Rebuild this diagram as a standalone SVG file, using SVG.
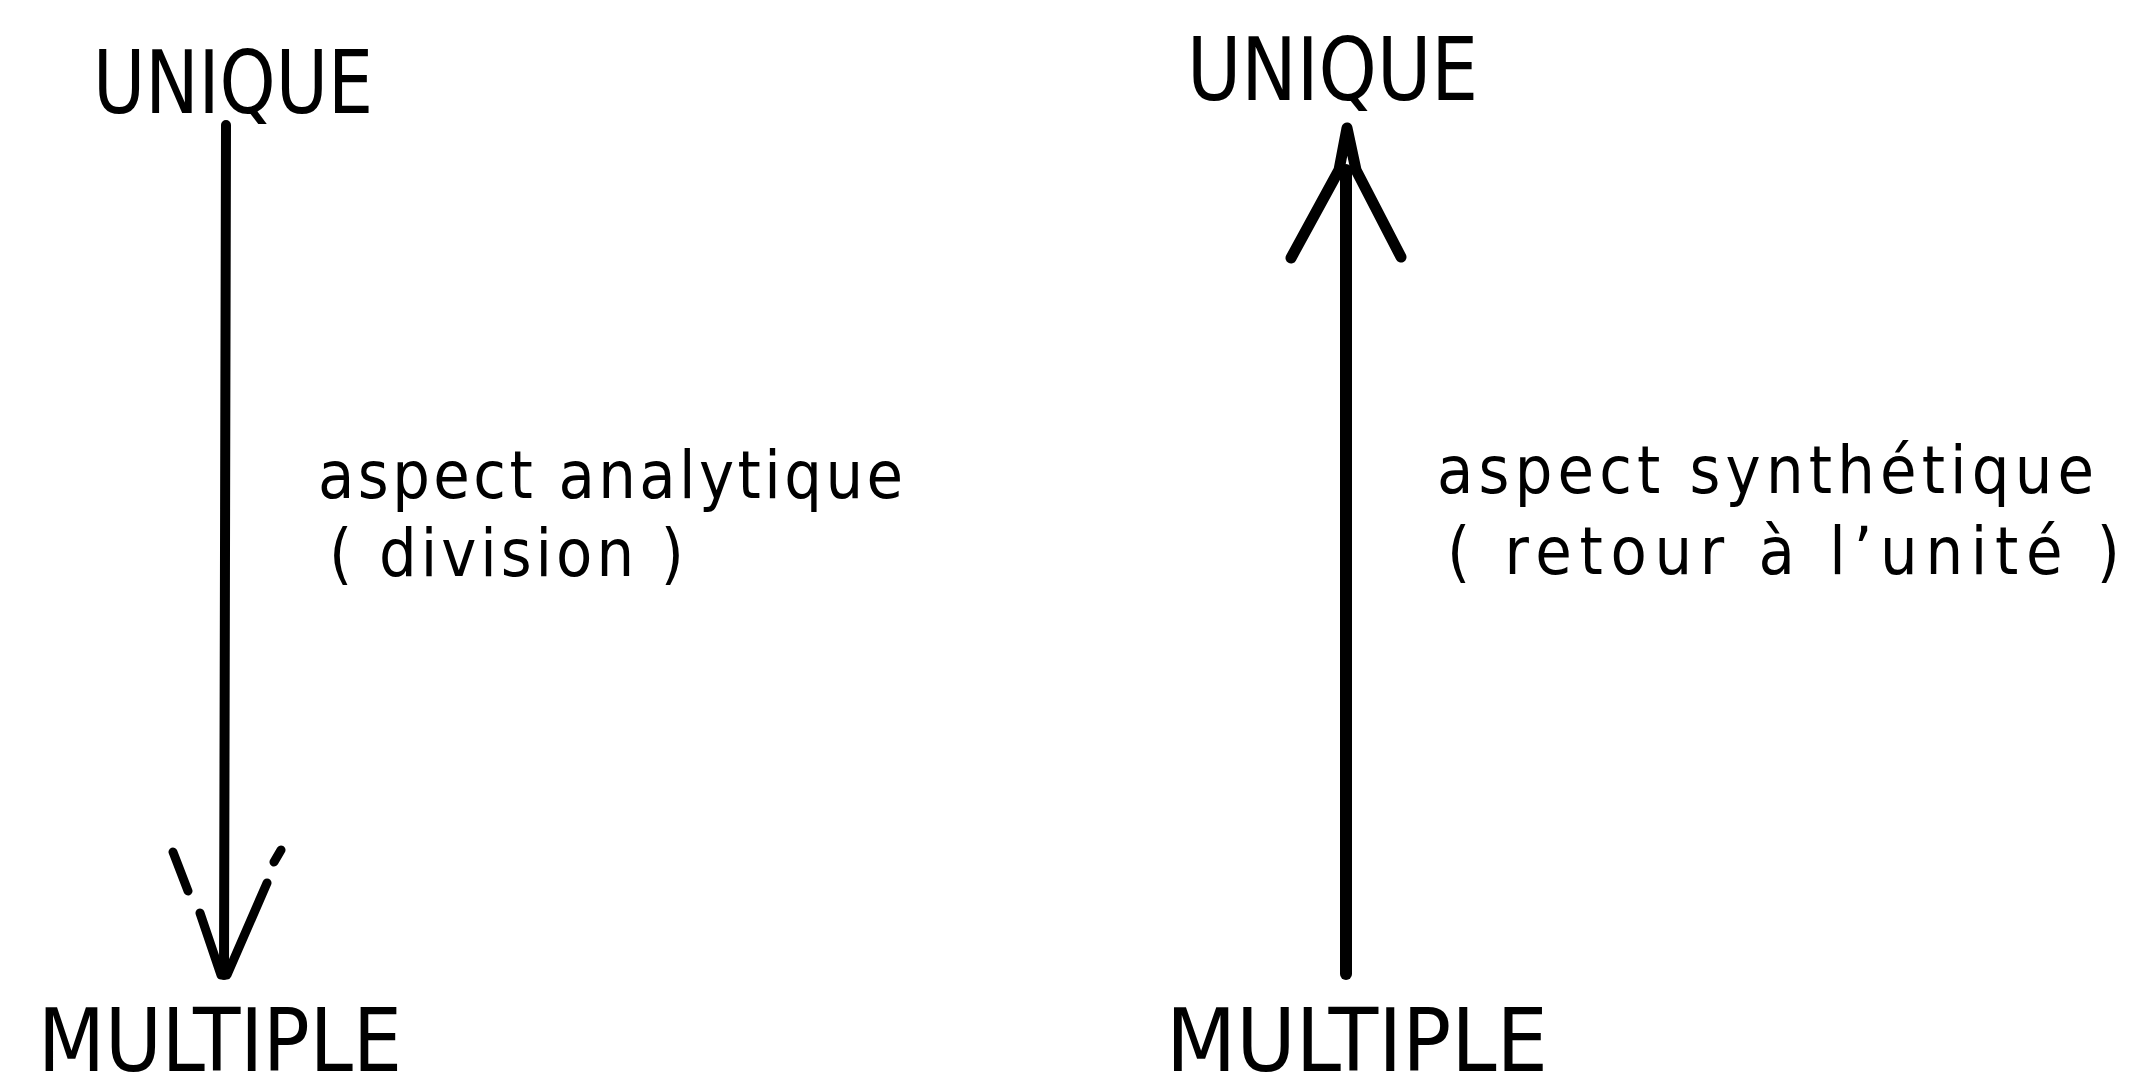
<svg xmlns="http://www.w3.org/2000/svg" width="2134" height="1078" viewBox="0 0 2134 1078">
  <style>
    .cap { font-family: "DejaVu Sans Condensed", "DejaVu Sans", "Liberation Sans", sans-serif; font-stretch: condensed; font-size: 88px; fill: #000; }
    .lbl { font-family: "DejaVu Sans Condensed", "DejaVu Sans", "Liberation Sans", sans-serif; font-stretch: condensed; font-size: 66px; fill: #000; }
    .shaft { stroke: #000; stroke-linecap: round; fill: none; }
    .head { stroke: #000; stroke-linecap: round; stroke-linejoin: round; fill: none; }
  </style>
  <rect width="2134" height="1078" fill="#fff"/>

  <!-- Left diagram: analytic aspect (downwards) -->
  <g id="unique-left">
    <text class="cap" x="93" y="113" textLength="280" lengthAdjust="spacingAndGlyphs">UNIQUE</text>
  </g>
  <g id="multiple-left">
    <text class="cap" x="38" y="1071" textLength="364" lengthAdjust="spacingAndGlyphs">MULTIPLE</text>
  </g>
  <g id="label-analytique">
    <text class="lbl" x="318" y="498" textLength="585" lengthAdjust="spacing">aspect  analytique</text>
    <text class="lbl" x="329" y="576" textLength="355" lengthAdjust="spacing">(  division  )</text>
  </g>

  <!-- Right diagram: synthetic aspect (upwards) -->
  <g id="unique-right">
    <text class="cap" x="1187" y="100" textLength="291" lengthAdjust="spacingAndGlyphs">UNIQUE</text>
  </g>
  <g id="multiple-right">
    <text class="cap" x="1166" y="1071" textLength="382" lengthAdjust="spacingAndGlyphs">MULTIPLE</text>
  </g>
  <g id="label-synthetique">
    <text class="lbl" x="1437" y="493" textLength="657" lengthAdjust="spacing">aspect  synthétique</text>
    <text class="lbl" x="1447" y="574" textLength="673" lengthAdjust="spacing">(  retour  à  l’unité  )</text>
  </g>

  <!-- Connectors -->
  <g id="connectors">
    <!-- downward arrow, broken open head -->
    <line class="shaft" x1="226" y1="125" x2="224" y2="975" stroke-width="10"/>
    <path class="head" stroke-width="9" d="M173,852 L188,891 M200,913 L221,975 L227,975 L267,883 M274,862 L281,850"/>
    <!-- upward arrow, open head -->
    <line class="shaft" x1="1346" y1="170" x2="1346" y2="974" stroke-width="12"/>
    <path class="head" stroke-width="11" d="M1291,258 L1339,170 L1347,128 L1356,170 L1401,257"/>
  </g>
</svg>
